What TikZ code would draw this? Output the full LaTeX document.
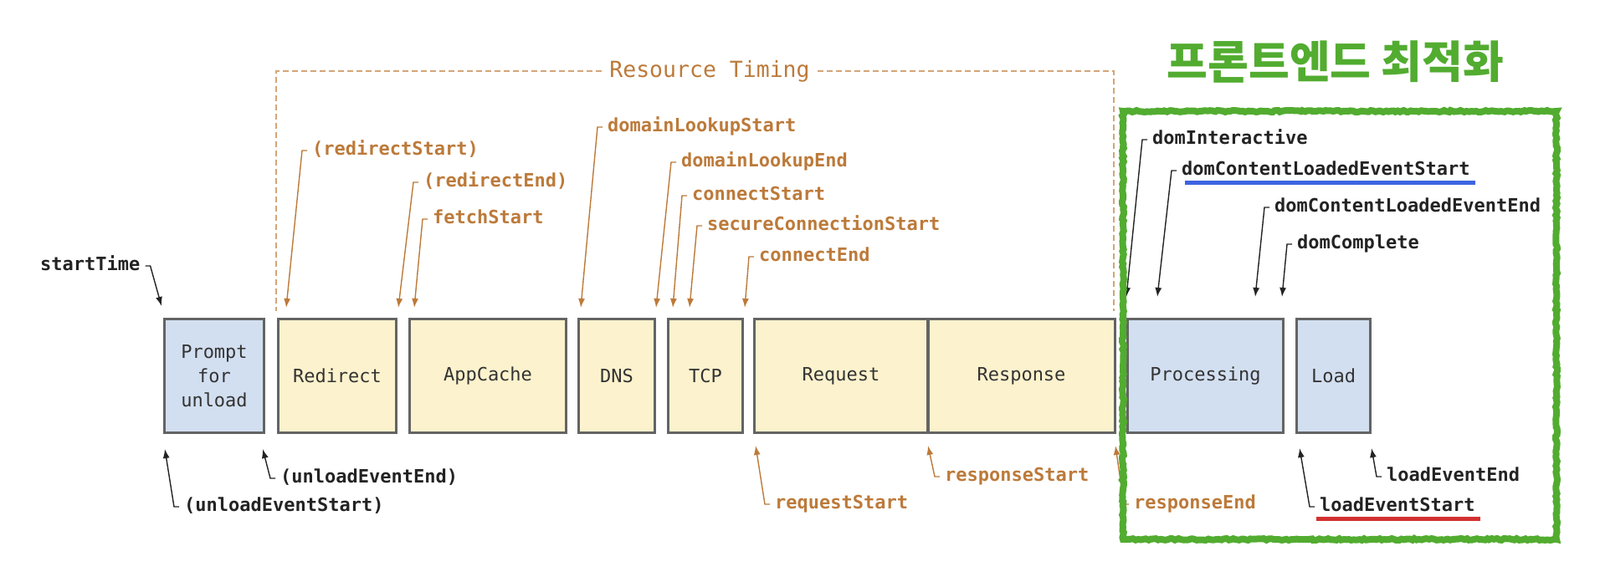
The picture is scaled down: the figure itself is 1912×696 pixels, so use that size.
\documentclass[tikz,border=0pt]{standalone}
\usepackage{fontspec}
\setmonofont{DejaVu Sans Mono}
\newfontfamily\kofont{Noto Sans CJK KR}[BoldFont={Noto Sans CJK KR Black}]
\usetikzlibrary{arrows.meta,decorations.pathmorphing}
\definecolor{rtorange}{RGB}{188,122,58}
\definecolor{rtdash}{RGB}{212,165,120}
\definecolor{navblue}{RGB}{210,223,240}
\definecolor{rtyellow}{RGB}{252,242,205}
\definecolor{boxgray}{RGB}{100,100,100}
\definecolor{labelblack}{RGB}{35,35,35}
\definecolor{fegreen}{RGB}{82,172,48}
\definecolor{ulblue}{RGB}{62,100,225}
\definecolor{ulred}{RGB}{212,48,48}

\begin{document}
\begin{tikzpicture}[x=1pt, y=-1pt,
  every node/.style={font=\ttfamily\fontsize{22}{29}\selectfont},
  box/.style={draw=boxgray, line width=3pt, minimum height=136pt, inner sep=0pt, align=center, text=black!80},
  lbl/.style={anchor=west, inner xsep=6pt, inner ysep=0pt, text height=16pt, text depth=5pt,
    font=\ttfamily\bfseries\fontsize{22}{26}\selectfont},
  arr/.style={line width=1.4pt, -{Latex[length=11pt,width=8pt]}},
  rtline/.style={rtdash, line width=2.2pt, dash pattern=on 7pt off 4pt},
  ruled/.style={line width=4.5pt}]
  \useasboundingbox (0,0) rectangle (1912,696);

  \node[font=\kofont\bfseries\fontsize{53}{53}\selectfont, text=fegreen] (title) at (1596,74) {프론트엔드 최적화};

  \foreach \n/\c/\w/\f/\t in {prompt/256/119/navblue/{Prompt\\for\\unload}, redirect/403/141/rtyellow/Redirect,
      appcache/583/187/rtyellow/AppCache, dns/737/91/rtyellow/DNS, tcp/843/89/rtyellow/TCP,
      request/1005/207/rtyellow/Request, response/1220.5/223/rtyellow/Response,
      processing/1440.5/186/navblue/Processing, load/1593.5/88/navblue/Load}
    \node[box, fill=\f, minimum width=\w pt] (\n) at (\c,449.5) {\t};

  \node[font=\ttfamily\fontsize{26.5}{30}\selectfont, text=rtorange, inner xsep=9pt] (rt) at (848,85) {Resource Timing};
  \coordinate (rtL) at (330,372);
  \coordinate (rtR) at (1331,372);
  \draw[rtline] (rt.west) -| (rtL);
  \draw[rtline] (rt.east) -| (rtR);

  \foreach \n/\x/\y/\tx/\ty/\t in {rdStart/373/180/342/368/(redirectStart), rdEnd/506/218/476/368/(redirectEnd),
      fetchStart/517/262/495/368/fetchStart, dnsStart/726/152/694/368/domainLookupStart,
      dnsEnd/814/194/784/368/domainLookupEnd, conStart/827/234/804/368/connectStart,
      secStart/845/270/824/368/secureConnectionStart, conEnd/907/307/890/368/connectEnd,
      reqStart/926/603/903/533/requestStart, resStart/1129/570/1109/533/responseStart,
      resEnd/1355/603/1333/533/responseEnd}
  {
    \node[lbl, text=rtorange] (\n) at (\x-6,\y) {\t};
    \coordinate (\n-tip) at (\tx,\ty);
    \draw[arr, rtorange] (\n.west) -- ++(-6,0) -- (\n-tip);
  }

  \foreach \n/\x/\y/\tx/\ty/\t in {unStart/220/606/197/537/(unloadEventStart), unEnd/335/572/314/537/(unloadEventEnd),
      ldStart/1577/606/1553/536/loadEventStart, ldEnd/1657/570/1639/536/loadEventEnd,
      domInt/1377/167/1346/355/domInteractive, dclStart/1412/204/1383/355/domContentLoadedEventStart,
      dclEnd/1523/248/1500/355/domContentLoadedEventEnd, domComp/1550/292/1532/355/domComplete}
  {
    \node[lbl, text=labelblack] (\n) at (\x-6,\y) {\t};
    \coordinate (\n-tip) at (\tx,\ty);
    \draw[arr, labelblack] (\n.west) -- ++(-6,0) -- (\n-tip);
  }

  \node[lbl, text=labelblack] (startTime) at (42,318) {startTime};
  \coordinate (startTime-tip) at (193,366);
  \draw[arr, labelblack] (startTime.east) -- ++(6,0) -- (startTime-tip);

  \draw[ruled, ulblue] ([shift={(10pt,-9pt)}]dclStart.base west) -- ([shift={(0pt,-9pt)}]dclStart.base east);
  \draw[ruled, ulred] ([shift={(2pt,-9pt)}]ldStart.base west) -- ([shift={(0pt,-9pt)}]ldStart.base east);

  \draw[fegreen, line width=8pt, decorate, decoration={random steps, segment length=3pt, amplitude=1pt}]
    (1342,133) rectangle (1860,645);
\end{tikzpicture}
\end{document}
